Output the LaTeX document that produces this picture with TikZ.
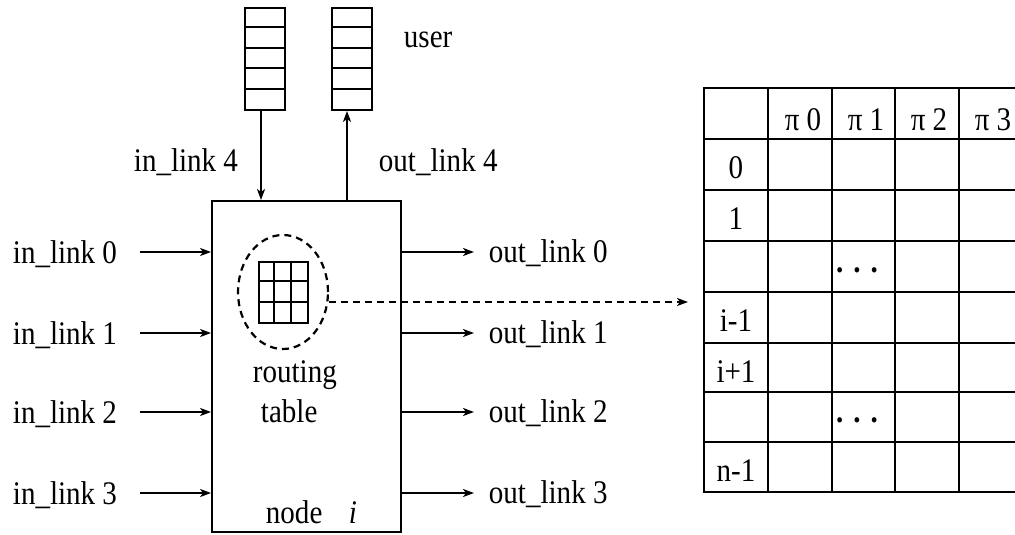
\documentclass[tikz,border=0pt]{standalone}
\usepackage{fontspec}
\setmainfont{Liberation Serif}[FakeStretch=0.88]
\usetikzlibrary{arrows.meta,shapes.geometric}
\begin{document}
\begin{tikzpicture}[x=1pt,y=-1pt,line width=1.9pt,
  lbl/.style={font=\fontsize{33}{34}\selectfont,inner sep=0pt,anchor=base west},
  lblc/.style={font=\fontsize{33}{34}\selectfont,inner sep=0pt,anchor=base},
  arr/.style={-{Stealth[length=11pt,width=8pt,inset=3pt]}},
  dashline/.style={dash pattern=on 7pt off 5pt},
  frame/.style={draw,inner sep=0pt}]
\useasboundingbox (0,0) rectangle (1015,535);

% the router node
\node[frame,minimum width=189pt,minimum height=331pt] (box) at (306.5,366.5) {};

% user queues
\foreach \nm/\x in {qin/265,qout/352}{
  \node[frame,minimum width=40pt,minimum height=102pt] (\nm) at (\x,59) {};
  \foreach \k in {1,...,4}
    \draw (\nm.north west) ++(0,\k*20.4) -- ++(40,0);
}
\coordinate (a4in) at (261,0);
\coordinate (a4out) at (347,0);
\draw[arr] (qin.south -| a4in) -- (box.north -| a4in);
\draw[arr] (box.north -| a4out) -- (qout.south -| a4out);
\node[lbl] (user) at (403,48) {user};
\node[lbl] (lin4) at (133,171) {in\_link 4};
\node[lbl] (lout4) at (378,171) {out\_link 4};

% input and output links
\foreach \k/\y in {0/252,1/333,2/412,3/493}{
  \node[lbl] (in\k) at (12,\y+11) {in\_link \k};
  \coordinate (is\k) at (140,\y);
  \draw[arr] (is\k) -- (is\k -| box.west);
  \node[lbl] (out\k) at (488,\y+10) {out\_link \k};
  \coordinate (oe\k) at (474,\y);
  \draw[arr] (oe\k -| box.east) -- (oe\k);
}

% routing table inside the node
\node[draw,ellipse,dashline,line width=2.2pt,minimum width=90pt,minimum height=114pt,inner sep=0pt] (ell) at (283,292) {};
\node[frame,minimum width=49pt,minimum height=61pt] (rt) at (283.5,292.5) {};
\foreach \k in {1,2}{
  \draw (rt.north west) ++(\k*16.33,0) -- ++(0,61);
  \draw (rt.north west) ++(0,\k*20.33) -- ++(49,0);
}
\node[lbl] (rtl1) at (252,382) {routing};
\node[lbl] (rtl2) at (260,422) {table};
\node[lbl] (nodei) at (265,523) {node\hspace{0.8em}\textit{i}};

% expanded table
\coordinate (tip) at (688,302);
\draw[arr,dashline,line width=2pt] (ell.east |- tip) -- (tip);
\begin{scope}[line cap=rect]
  \foreach \x in {704,768,832,895,959}
    \draw (\x,88) -- (\x,492);
  \foreach \y in {88,139,190,241,292,343,392,442,492}
    \draw (704,\y) -- (1016,\y);
\end{scope}
\foreach \k/\x in {0/803,1/866,2/929,3/993}
  \node[lblc] (h\k) at (\x,130) {π \k};
\foreach \nm/\t/\y in {r0/0/178,r1/1/229,rim/i-1/331,rip/i+1/382,rn/n-1/481}
  \node[lblc] (\nm) at (736,\y) {\t};
\node[lblc] (d1) at (857,272) {\textbf{.\hspace{0.3em}.\hspace{0.3em}.}};
\node[lblc] (d2) at (857,422) {\textbf{.\hspace{0.3em}.\hspace{0.3em}.}};
\end{tikzpicture}
\end{document}
